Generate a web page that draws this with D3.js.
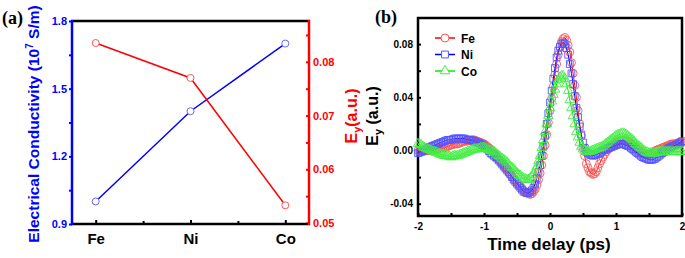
<!DOCTYPE html>
<html>
<head>
<meta charset="utf-8">
<title>Conductivity and Ey</title>
<script src="https://d3js.org/d3.v7.min.js"></script>
<style>
  body { margin: 0; background: #fff; }
</style>
</head>
<body>
<script>
// panel (a)
const categories = ["Fe", "Ni", "Co"];
const conductivity = [1.0, 1.4, 1.7];
const eyPeak = [0.0835, 0.077, 0.0533];
const condTicks = [0.9, 1.2, 1.5, 1.8];
const eyTicks = [0.05, 0.06, 0.07, 0.08];

// panel (b): sampled every 0.025 ps from -2 ps
const tStart = -2, tStep = 0.025;
const eyFe = [
  0, 0, 0, 0, 0, 0, 0, 0, 0, 0.0005,
  0.001, 0.001, 0.001, 0.0015, 0.002, 0.002, 0.002, 0.0025, 0.003, 0.0035,
  0.004, 0.0045, 0.005, 0.005, 0.005, 0.0055, 0.006, 0.0065, 0.007, 0.007,
  0.007, 0.0075, 0.008, 0.008, 0.008, 0.0075, 0.007, 0.0065, 0.006, 0.0055,
  0.005, 0.004, 0.003, 0.002, 0.001, -0.0005, -0.002, -0.0035, -0.005, -0.0065,
  -0.008, -0.0095, -0.011, -0.0125, -0.014, -0.016, -0.018, -0.0195, -0.021, -0.0225,
  -0.024, -0.0255, -0.027, -0.0285, -0.030, -0.031, -0.032, -0.0325, -0.033, -0.0325,
  -0.031, -0.029, -0.026, -0.022, -0.017, -0.011, -0.004, 0.004, 0.012, 0.021,
  0.030, 0.039, 0.048, 0.057, 0.065, 0.072, 0.078, 0.082, 0.084, 0.085,
  0.083, 0.079, 0.074, 0.066, 0.058, 0.049, 0.040, 0.030, 0.020, 0.011,
  0.002, -0.004, -0.010, -0.013, -0.016, -0.017, -0.018, -0.0175, -0.016, -0.013,
  -0.010, -0.0075, -0.005, -0.003, -0.001, 0.0005, 0.002, 0.003, 0.004, 0.005,
  0.006, 0.0065, 0.007, 0.0075, 0.008, 0.008, 0.007, 0.0065, 0.006, 0.005,
  0.004, 0.003, 0.002, 0.001, 0, -0.001, -0.002, -0.0025, -0.003, -0.003,
  -0.003, -0.0025, -0.002, -0.001, 0, 0.0005, 0.001, 0.0015, 0.002, 0.0025,
  0.003, 0.0035, 0.004, 0.0045, 0.005, 0.005, 0.005, 0.0055, 0.006, 0.006,
  0.006
];
const eyNi = [
  -0.002, -0.0015, -0.001, -0.0005, 0, 0.001, 0.002, 0.0025, 0.003, 0.0035,
  0.004, 0.0045, 0.005, 0.0055, 0.006, 0.0065, 0.007, 0.0075, 0.008, 0.008,
  0.008, 0.0085, 0.009, 0.009, 0.009, 0.009, 0.009, 0.009, 0.009, 0.0085,
  0.008, 0.008, 0.008, 0.0075, 0.007, 0.0065, 0.006, 0.0055, 0.005, 0.004,
  0.003, 0.002, 0.001, -0.0005, -0.002, -0.003, -0.004, -0.005, -0.006, -0.0075,
  -0.009, -0.0105, -0.012, -0.0135, -0.015, -0.0165, -0.018, -0.020, -0.022, -0.0235,
  -0.025, -0.0265, -0.028, -0.0295, -0.031, -0.0315, -0.032, -0.032, -0.031, -0.030,
  -0.028, -0.025, -0.021, -0.016, -0.011, -0.004, 0.003, 0.011, 0.020, 0.028,
  0.036, 0.045, 0.054, 0.062, 0.070, 0.075, 0.078, 0.080, 0.081, 0.080,
  0.077, 0.072, 0.065, 0.058, 0.050, 0.041, 0.032, 0.025, 0.018, 0.012,
  0.006, 0.002, -0.001, -0.002, -0.003, -0.0035, -0.004, -0.0035, -0.003, -0.0025,
  -0.002, -0.001, 0, 0.0005, 0.001, 0.0015, 0.002, 0.0025, 0.003, 0.0035,
  0.004, 0.0045, 0.005, 0.005, 0.005, 0.0045, 0.004, 0.0035, 0.003, 0.002,
  0.001, 0, -0.001, -0.002, -0.003, -0.004, -0.005, -0.0055, -0.006, -0.0065,
  -0.007, -0.007, -0.007, -0.0065, -0.006, -0.005, -0.004, -0.003, -0.002, -0.001,
  0, 0.001, 0.002, 0.0025, 0.003, 0.0035, 0.004, 0.0045, 0.005, 0.006,
  0.007
];
const eyCo = [
  0.005, 0.0045, 0.004, 0.003, 0.002, 0.0015, 0.001, 0.0005, 0, -0.0005,
  -0.001, -0.0015, -0.002, -0.0025, -0.003, -0.0035, -0.004, -0.004, -0.004, -0.0045,
  -0.005, -0.0045, -0.004, -0.004, -0.004, -0.0035, -0.003, -0.0025, -0.002, -0.0015,
  -0.001, -0.0005, 0, 0.0005, 0.001, 0.001, 0.001, 0.0015, 0.002, 0.002,
  0.002, 0.0015, 0.001, 0.0005, 0, -0.0005, -0.001, -0.002, -0.003, -0.004,
  -0.005, -0.006, -0.007, -0.008, -0.009, -0.0105, -0.012, -0.013, -0.014, -0.0155,
  -0.017, -0.018, -0.019, -0.020, -0.021, -0.0215, -0.022, -0.022, -0.021, -0.0195,
  -0.018, -0.015, -0.012, -0.008, -0.004, 0.002, 0.008, 0.014, 0.020, 0.026,
  0.032, 0.037, 0.042, 0.046, 0.050, 0.053, 0.055, 0.056, 0.056, 0.054,
  0.050, 0.045, 0.038, 0.032, 0.026, 0.020, 0.014, 0.010, 0.006, 0.003,
  0.001, 0, -0.001, -0.001, -0.001, -0.0005, 0, 0.0005, 0.001, 0.0015,
  0.002, 0.0025, 0.003, 0.004, 0.005, 0.006, 0.007, 0.008, 0.009, 0.010,
  0.011, 0.0115, 0.012, 0.0125, 0.013, 0.0125, 0.012, 0.011, 0.010, 0.009,
  0.008, 0.0065, 0.005, 0.004, 0.003, 0.002, 0.001, 0, -0.001, -0.0015,
  -0.002, -0.002, -0.002, -0.002, -0.002, -0.0015, -0.001, -0.001, -0.001, -0.001,
  -0.001, -0.001, -0.001, -0.001, -0.001, -0.001, -0.001, -0.001, -0.001, -0.001,
  -0.001
];
const timeTicks = [-2, -1, 0, 1, 2];
const eyBTicks = [-0.04, 0, 0.04, 0.08];

const W = 685, H = 258;
const FONT = "Arial, 'Liberation Sans', sans-serif";
const BLUE = "#0000ff", RED = "#ff0000", GREEN = "#00ee00";

const svg = d3.select("body").append("svg")
    .attr("width", W)
    .attr("height", H)
    .style("font-family", FONT)
;

function styleAxis(g, color, size) {
    g.select(".domain").remove();
    g.selectAll(".tick line").attr("stroke", color).attr("stroke-width", 2);
    g.selectAll(".tick text")
        .attr("fill", color)
        .style("font-family", FONT)
        .style("font-weight", "bold")
        .style("font-size", size + "px");
}

// ---------- panel (a) ----------
const ax = d3.scaleLinear().domain([0.75, 3.25]).range([72, 309]);
const ayL = d3.scaleLinear().domain([0.9, 1.8]).range([224, 21]);
const ayR = d3.scaleLinear().domain([0.05, 0.0876]).range([223, 21]);

const ga = svg.append("g");

ga.append("g").attr("transform", "translate(72,0)")
    .call(d3.axisLeft(ayL).tickValues(condTicks).tickSize(3).tickPadding(2).tickFormat(d3.format(".1f")))
    .call(g => styleAxis(g, BLUE, 11));
ga.append("g").attr("transform", "translate(72,0)")
    .call(d3.axisLeft(ayL).tickValues([1.05, 1.35, 1.65]).tickSize(3).tickFormat(""))
    .call(g => styleAxis(g, BLUE, 11));

ga.append("g").attr("transform", "translate(309,0)")
    .call(d3.axisRight(ayR).tickValues(eyTicks).tickSize(-3).tickPadding(4).tickFormat(d3.format(".2f")))
    .call(g => styleAxis(g, RED, 11));
ga.append("g").attr("transform", "translate(309,0)")
    .call(d3.axisRight(ayR).tickValues([0.055, 0.065, 0.075, 0.085]).tickSize(-3).tickFormat(""))
    .call(g => styleAxis(g, RED, 11));

ga.append("g").attr("transform", "translate(0,224)")
    .call(d3.axisBottom(ax).tickValues([1, 2, 3]).tickSize(-4).tickPadding(9).tickFormat(d => categories[d - 1]))
    .call(g => styleAxis(g, "#000", 15));
ga.append("g").attr("transform", "translate(0,224)")
    .call(d3.axisBottom(ax).tickValues([1.5, 2.5]).tickSize(-3).tickFormat(""))
    .call(g => styleAxis(g, "#000", 15));

// frame lines
ga.append("line").attr("x1", 71).attr("x2", 310).attr("y1", 21).attr("y2", 21)
    .attr("stroke", "#000").attr("stroke-width", 2.5);
ga.append("line").attr("x1", 71).attr("x2", 310).attr("y1", 224).attr("y2", 224)
    .attr("stroke", "#000").attr("stroke-width", 2.5);
ga.append("line").attr("x1", 72).attr("x2", 72).attr("y1", 20).attr("y2", 225)
    .attr("stroke", BLUE).attr("stroke-width", 2.5);
ga.append("line").attr("x1", 309).attr("x2", 309).attr("y1", 20).attr("y2", 225)
    .attr("stroke", RED).attr("stroke-width", 2.5);

const condLine = d3.line().x((d, i) => ax(i + 1)).y(d => ayL(d));
const eyLine = d3.line().x((d, i) => ax(i + 1)).y(d => ayR(d));

ga.append("path").attr("d", condLine(conductivity))
    .attr("fill", "none").attr("stroke", BLUE).attr("stroke-width", 1.5);
ga.append("path").attr("d", eyLine(eyPeak))
    .attr("fill", "none").attr("stroke", RED).attr("stroke-width", 1.5);

ga.selectAll("circle.cond").data(conductivity).join("circle")
    .attr("class", "cond")
    .attr("cx", (d, i) => ax(i + 1)).attr("cy", d => ayL(d)).attr("r", 3.5)
    .attr("fill", "#fff").attr("stroke", "#6666ff").attr("stroke-width", 1);
ga.selectAll("circle.ey").data(eyPeak).join("circle")
    .attr("class", "ey")
    .attr("cx", (d, i) => ax(i + 1)).attr("cy", d => ayR(d)).attr("r", 3.5)
    .attr("fill", "#fff").attr("stroke", "#ff5555").attr("stroke-width", 1);

// titles
const tl = svg.append("text")
    .attr("transform", "translate(38.5,124) rotate(-90)")
    .attr("text-anchor", "middle")
    .attr("fill", BLUE)
    .style("font-weight", "bold").style("font-size", "15.5px");
tl.append("tspan").text("Electrical Conductivity (10");
tl.append("tspan").attr("dy", -6).style("font-size", "10px").text("7");
tl.append("tspan").attr("dy", 6).text(" S/m)");

const tr = svg.append("text")
    .attr("transform", "translate(357,116) rotate(-90)")
    .attr("text-anchor", "middle")
    .attr("fill", RED)
    .style("font-weight", "bold").style("font-size", "16px");
tr.append("tspan").text("E");
tr.append("tspan").attr("dy", 4).style("font-size", "11px").text("y");
tr.append("tspan").attr("dy", -4).text("(a.u.)");

svg.append("text").attr("x", 2).attr("y", 24)
    .style("font-family", "'Liberation Serif', 'Times New Roman', serif")
    .style("font-weight", "bold").style("font-size", "18px")
    .text("(a)");

// ---------- panel (b) ----------
const bx = d3.scaleLinear().domain([-2, 2]).range([418, 682]);
const by = d3.scaleLinear().domain([-0.05, 0.10]).range([217, 17.5]);
const gb = svg.append("g");

gb.append("g").attr("transform", "translate(418,0)")
    .call(d3.axisLeft(by).tickValues(eyBTicks).tickSize(-3).tickPadding(5).tickFormat(d => d.toFixed(2)))
    .call(g => styleAxis(g, "#000", 10));
gb.append("g").attr("transform", "translate(418,0)")
    .call(d3.axisLeft(by).tickValues([-0.02, 0.02, 0.06]).tickSize(-3).tickFormat(""))
    .call(g => styleAxis(g, "#000", 10));
gb.append("g").attr("transform", "translate(0,216)")
    .call(d3.axisBottom(bx).tickValues(timeTicks).tickSize(-3).tickPadding(7).tickFormat(d => String(d)))
    .call(g => styleAxis(g, "#000", 10));
gb.append("g").attr("transform", "translate(0,216)")
    .call(d3.axisBottom(bx).tickValues([-1.5, -0.5, 0.5, 1.5]).tickSize(-3).tickFormat(""))
    .call(g => styleAxis(g, "#000", 10));

gb.append("rect").attr("x", 418).attr("y", 18).attr("width", 264).attr("height", 198)
    .attr("fill", "none").attr("stroke", "#000").attr("stroke-width", 2.5);

const series = [
    { name: "Fe", values: eyFe, line: RED, mark: "#ff5555", shape: "circle" },
    { name: "Ni", values: eyNi, line: BLUE, mark: "#5555ff", shape: "square" },
    { name: "Co", values: eyCo, line: GREEN, mark: "#44ee44", shape: "triangle" },
];

const tLine = d3.line().x((d, i) => bx(tStart + i * tStep)).y(d => by(d));
const symbols = {
    circle: d3.symbol(d3.symbolCircle, 50)(),
    square: d3.symbol(d3.symbolSquare, 46)(),
    triangle: d3.symbol(d3.symbolTriangle, 40)(),
};

series.forEach(s => {
    gb.append("path").attr("d", tLine(s.values))
        .attr("fill", "none").attr("stroke", s.line).attr("stroke-width", 1);
    gb.append("g").selectAll("path").data(s.values).join("path")
        .attr("d", symbols[s.shape])
        .attr("transform", (d, i) => `translate(${bx(tStart + i * tStep)},${by(d)})`)
        .attr("fill", "none").attr("stroke", s.mark).attr("stroke-width", 0.9);
});

// legend
const lg = gb.append("g").selectAll("g").data(series).join("g")
    .attr("transform", (d, i) => `translate(435,${38 + i * 16.5})`);
lg.append("line").attr("x1", 0).attr("x2", 20)
    .attr("stroke", d => d.line).attr("stroke-width", 1.5);
lg.append("path").attr("d", d => symbols[d.shape])
    .attr("transform", "translate(10,0)")
    .attr("fill", "#fff").attr("stroke", d => d.mark).attr("stroke-width", 1);
lg.append("text").attr("x", 26).attr("y", 4.5)
    .style("font-weight", "bold").style("font-size", "12px")
    .text(d => d.name);

// axis titles
svg.append("text").attr("x", 549).attr("y", 250)
    .attr("text-anchor", "middle")
    .style("font-weight", "bold").style("font-size", "17px")
    .text("Time delay (ps)");

const tb = svg.append("text")
    .attr("transform", "translate(378,116) rotate(-90)")
    .attr("text-anchor", "middle")
    .style("font-weight", "bold").style("font-size", "16px");
tb.append("tspan").text("E");
tb.append("tspan").attr("dy", 4).style("font-size", "11px").text("y");
tb.append("tspan").attr("dy", -4).text(" (a.u.)");

svg.append("text").attr("x", 375).attr("y", 23)
    .style("font-family", "'Liberation Serif', 'Times New Roman', serif")
    .style("font-weight", "bold").style("font-size", "18px")
    .text("(b)");
</script>
</body>
</html>
